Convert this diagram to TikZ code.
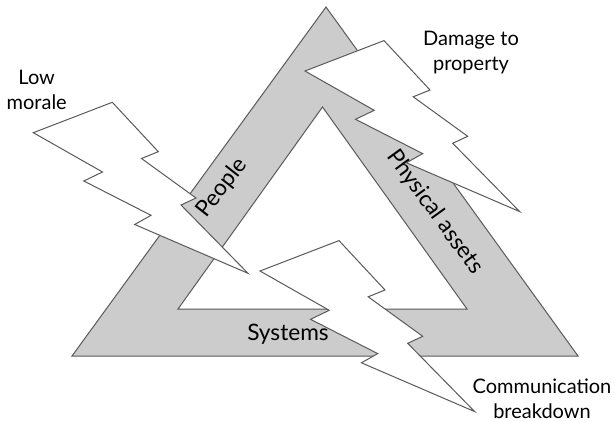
\documentclass[tikz,border=0pt]{standalone}
\usepackage{fontspec}
\setmainfont{Lato}
\usepackage{tikz}
\definecolor{bandgray}{RGB}{204,204,204}
\definecolor{edgegray}{RGB}{90,90,90}
\tikzset{
  band/.style={draw=edgegray, fill=bandgray, line width=0.75pt, even odd rule},
  bolt/.style={draw=edgegray, fill=white, line width=0.75pt, line join=miter},
  outlbl/.style={align=center, font=\fontsize{15}{18.5}\selectfont, inner sep=0pt},
  bandlbl/.style={font=\fontsize{17}{20}\selectfont, inner sep=0pt}
}

\begin{document}
\begin{tikzpicture}[x=0.75pt, y=-0.75pt]
  \useasboundingbox[fill=white] (0,0) rectangle (614,421);

  % Triangle band
  \path[band] (72,356) -- (326,7) -- (578,356) -- cycle
              (178,309) -- (322.5,107) -- (467,309) -- cycle;

  % Band labels
  \node[bandlbl, rotate=52] (people) at (222,188) {People};
  \node[bandlbl, rotate=-54] (assets) at (435,212) {Physical assets};
  \node[bandlbl] (systems) at (288,334) {Systems};

  % Lightning bolts
  \foreach \dx/\dy in {0/0, 271.7/-61.7, 226.7/138.3}
    \draw[bolt, shift={(\dx,\dy)}] (33.3,132.7) -- (112.3,102.3) -- (158.3,151.7)
      -- (141.5,158.5) -- (196,198) -- (181,205) -- (248,273.3)
      -- (134.7,224.5) -- (151,215.3) -- (83.8,181) -- (102.5,172) -- cycle;

  % Outside labels
  \node[outlbl] (morale) at (36.7,90) {Low\\morale};
  \node[outlbl] (damage) at (471,52.5) {Damage to\\property};
  \node[outlbl] (comms) at (542,399) {Communication\\breakdown};
\end{tikzpicture}
\end{document}
